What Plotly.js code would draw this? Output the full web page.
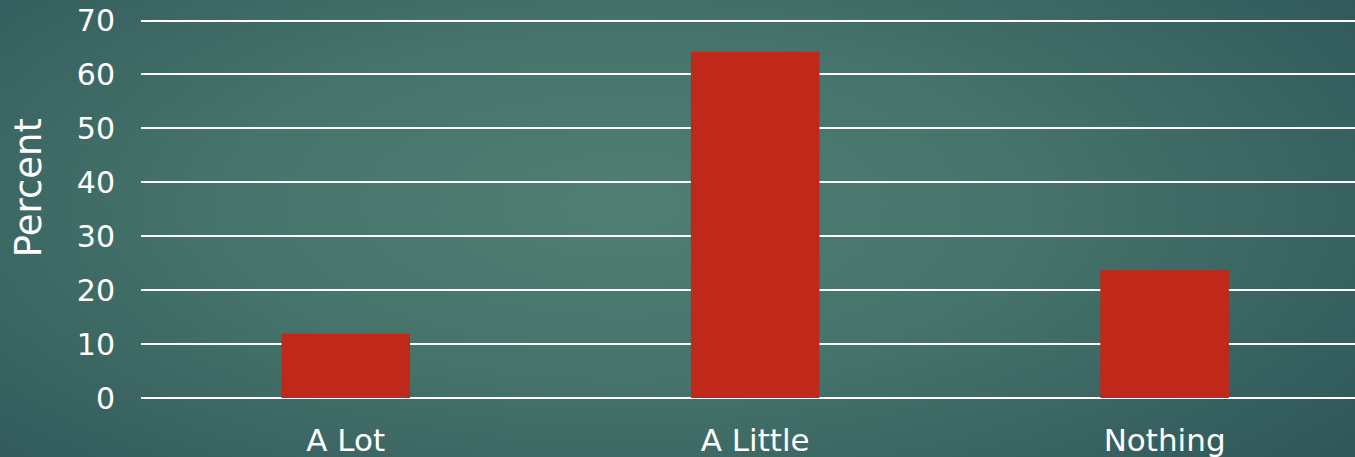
<!DOCTYPE html>
<html>
<head>
<meta charset="utf-8">
<script src="https://cdn.plot.ly/plotly-3.0.1.min.js"></script>
<style>
  html, body { margin: 0; padding: 0; width: 1355px; height: 457px; overflow: hidden; }
  body { background: radial-gradient(ellipse 75% 95% at 46% 45%, #507f73 0%, #46736b 40%, #36605f 75%, #2c5256 100%); }
  #chart { width: 1355px; height: 457px; }
</style>
</head>
<body>
<div id="chart"></div>
<script>
const categories = ["A Lot", "A Little", "Nothing"];
const percents = [11.9, 64.2, 23.7];
const yTicks = [0, 10, 20, 30, 40, 50, 60, 70];
const yTitle = "Percent";

const font = "'Century Gothic', 'DejaVu Sans', sans-serif";

Plotly.newPlot("chart", [{
  type: "bar",
  x: categories,
  y: percents,
  marker: { color: "#c0281a", line: { width: 0 } },
  hoverinfo: "skip"
}], {
  width: 1355,
  height: 457,
  margin: { l: 141, r: 0, t: 19, b: 59 },
  paper_bgcolor: "rgba(0,0,0,0)",
  plot_bgcolor: "rgba(0,0,0,0)",
  bargap: 0.686,
  showlegend: false,
  font: { family: font, color: "#ffffff" },
  xaxis: {
    type: "category",
    range: [-0.5, 2.465],
    showgrid: false,
    zeroline: false,
    showline: false,
    ticks: "",
    tickfont: { family: font, size: 31, color: "#ffffff" },
    ticklabelstandoff: 21
  },
  yaxis: {
    range: [0, 70.28],
    tickvals: yTicks,
    ticktext: yTicks.map(String),
    showgrid: true,
    gridcolor: "#ffffff",
    gridwidth: 2,
    zeroline: true,
    zerolinecolor: "#ffffff",
    zerolinewidth: 2,
    showline: false,
    ticks: "",
    ticklabelstandoff: 25,
    tickfont: { family: font, size: 30, color: "#ffffff" }
  },
  annotations: [{
    text: yTitle,
    xref: "paper", yref: "paper",
    x: -0.0931, y: 0.556,
    xanchor: "center", yanchor: "middle",
    textangle: -90,
    showarrow: false,
    font: { family: font, size: 37, color: "#ffffff" }
  }]
}, { displayModeBar: false, staticPlot: true });
</script>
</body>
</html>
